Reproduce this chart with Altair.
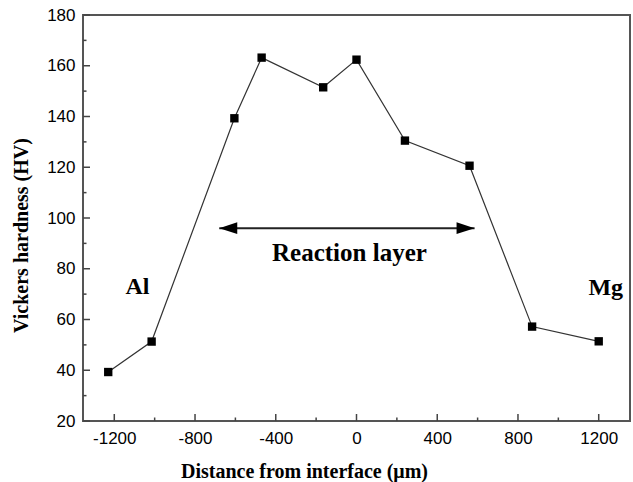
import altair as alt
import pandas as pd

# Data
distance = [-1230, -1015, -605, -470, -165, 0, 240, 560, 870, 1200]
hardness = [39.3, 51.3, 139.3, 163.2, 151.5, 162.4, 130.5, 120.6, 57.2, 51.4]

x_major = [-1200, -800, -400, 0, 400, 800, 1200]
x_minor = [-1000, -600, -200, 200, 600, 1000]
y_major = [20, 40, 60, 80, 100, 120, 140, 160, 180]
y_minor = [30, 50, 70, 90, 110, 130, 150, 170]

arrow_x = [-680, 585]
arrow_y = [96, 96]

label_text = ["Reaction layer", "Al", "Mg"]
label_x = [-35, -1085, 1235]
label_y = [86.2, 72.8, 72.4]
label_size = [25, 24, 24]

x_dom = [-1355, 1355]
y_dom = [20, 180]

W, H = 547, 406

df = pd.DataFrame({"x": distance, "y": hardness})
xs = alt.Scale(domain=x_dom, nice=False, zero=False)
ys = alt.Scale(domain=y_dom, nice=False, zero=False)

x_axis = alt.Axis(values=x_major, tickSize=0, domain=False, grid=False,
                  labelExpr="datum.value + ''",
                  labelFont="Liberation Sans", labelFontSize=17, labelColor="black",
                  labelPadding=9, title="Distance from interface (μm)",
                  titleFont="Liberation Serif", titleFontSize=20, titleFontWeight="bold",
                  titleColor="black", titleX=221, titleY=56, titleBaseline="alphabetic",
                  titleAlign="center", labelFlush=False)
y_axis = alt.Axis(values=y_major, tickSize=0, domain=False, grid=False,
                  labelExpr="datum.value + ''",
                  labelFont="Liberation Sans", labelFontSize=17, labelColor="black",
                  labelPadding=8, title="Vickers hardness (HV)",
                  titleFont="Liberation Serif", titleFontSize=20, titleFontWeight="bold",
                  titleColor="black", titleX=-56, titleY=220, titleBaseline="alphabetic",
                  titleAlign="center", labelFlush=False)

line = alt.Chart(df).mark_line(color="#333", strokeWidth=1.2).encode(
    x=alt.X("x:Q", scale=xs, axis=x_axis),
    y=alt.Y("y:Q", scale=ys, axis=y_axis),
)
pts = alt.Chart(df).mark_square(color="black", size=70, opacity=1).encode(
    x=alt.X("x:Q", scale=xs), y=alt.Y("y:Q", scale=ys)
)

def xticks(vals, length):
    return alt.Chart(pd.DataFrame({"t": vals})).mark_rule(color="#444", strokeWidth=1.5).encode(
        x=alt.X("t:Q", scale=xs), y=alt.value(H), y2=alt.value(H - length))

def yticks(vals, length):
    return alt.Chart(pd.DataFrame({"t": vals})).mark_rule(color="#444", strokeWidth=1.5).encode(
        y=alt.Y("t:Q", scale=ys), x=alt.value(0), x2=alt.value(length))

adf = pd.DataFrame({"x": [arrow_x[0]], "x2": [arrow_x[1]], "y": [arrow_y[0]]})
arrow_line = alt.Chart(adf).mark_rule(color="#222", strokeWidth=2).encode(
    x=alt.X("x:Q", scale=xs), x2="x2:Q", y=alt.Y("y:Q", scale=ys))

heads = pd.DataFrame({"x": arrow_x, "y": arrow_y, "dir": ["l", "r"]})
head_l = alt.Chart(heads[heads.dir == "l"]).mark_point(
    shape="M0,0L2,-0.66L2,0.66Z", filled=True, color="black", size=324, opacity=1).encode(
    x=alt.X("x:Q", scale=xs), y=alt.Y("y:Q", scale=ys))
head_r = alt.Chart(heads[heads.dir == "r"]).mark_point(
    shape="M0,0L-2,-0.66L-2,0.66Z", filled=True, color="black", size=324, opacity=1).encode(
    x=alt.X("x:Q", scale=xs), y=alt.Y("y:Q", scale=ys))

ldf = pd.DataFrame({"t": label_text, "x": label_x, "y": label_y, "s": label_size})
labels = alt.Chart(ldf).mark_text(font="Liberation Serif", fontWeight="bold",
                                  color="black", align="center", baseline="middle").encode(
    x=alt.X("x:Q", scale=xs), y=alt.Y("y:Q", scale=ys), text="t:N",
    size=alt.Size("s:Q", scale=None, legend=None))

chart = alt.layer(
    xticks(x_major, 7), xticks(x_minor, 3.5), yticks(y_major, 7), yticks(y_minor, 3.5),
    line, pts, arrow_line, head_l, head_r, labels
).properties(
    width=W, height=H,
    autosize=alt.AutoSizeParams(type="none"),
    padding={"left": 83, "top": 15, "right": 3, "bottom": 61},
    background="white",
).configure_view(stroke="#555", strokeWidth=2)

chart.save("out.html", embed_options={"renderer": "svg", "actions": False})
